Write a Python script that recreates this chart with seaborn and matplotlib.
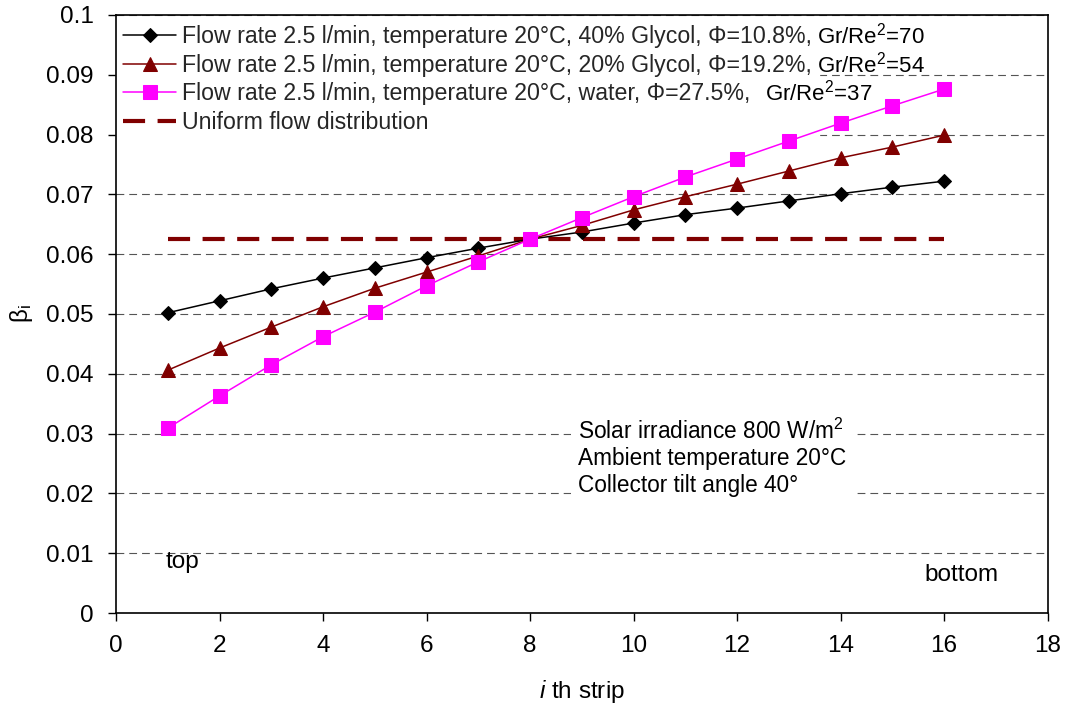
import matplotlib
matplotlib.use("Agg")
import matplotlib.pyplot as plt
import matplotlib.transforms as mtransforms
import seaborn as sns
import numpy as np
from matplotlib.ticker import FuncFormatter, MultipleLocator

# ---- data ----
strips = list(range(1, 17))
glycol40 = [0.0502, 0.0522, 0.0542, 0.0560, 0.0577, 0.0594, 0.0610, 0.0625,
            0.0637, 0.0652, 0.0666, 0.0677, 0.0689, 0.0701, 0.0712, 0.0722]
glycol20 = [0.0406, 0.0443, 0.0478, 0.0512, 0.0543, 0.0570, 0.0597, 0.0625,
            0.0648, 0.0674, 0.0696, 0.0717, 0.0739, 0.0761, 0.0779, 0.0799]
water = [0.0309, 0.0363, 0.0415, 0.0462, 0.0503, 0.0547, 0.0587, 0.0625,
         0.0661, 0.0696, 0.0729, 0.0759, 0.0789, 0.0819, 0.0848, 0.0876]
uniform = [0.0625] * 16

labels = ["Flow rate 2.5 l/min, temperature 20°C, 40% Glycol, Φ=10.8%,",
          "Flow rate 2.5 l/min, temperature 20°C, 20% Glycol, Φ=19.2%,",
          "Flow rate 2.5 l/min, temperature 20°C, water, Φ=27.5%,",
          "Uniform flow distribution"]
gr_labels = ["Gr/Re$^2$=70", "Gr/Re$^2$=54", "Gr/Re$^2$=37"]
conditions = "Solar irradiance 800 W/m$^2$\nAmbient temperature 20°C\nCollector tilt angle 40°"

# ---- style ----
sns.set_theme(style="white")
plt.rcParams["font.family"] = ["Liberation Sans", "DejaVu Sans"]
plt.rcParams["mathtext.fontset"] = "custom"
plt.rcParams["mathtext.rm"] = "Liberation Sans"
plt.rcParams["mathtext.it"] = "Liberation Sans:italic"
plt.rcParams["mathtext.default"] = "regular"

fig = plt.figure(figsize=(10.69, 7.10), dpi=100)
ax = fig.add_axes([0.1085, 0.1366, 0.8715, 0.8424])

sns.lineplot(x=strips, y=glycol40, ax=ax, color="black", marker="D", markersize=7,
             markeredgecolor="black", linewidth=1.1, label=labels[0], zorder=4)
sns.lineplot(x=strips, y=glycol20, ax=ax, color="#800000", marker="^", markersize=10,
             markeredgecolor="#800000", linewidth=1.1, label=labels[1], zorder=4)
sns.lineplot(x=strips, y=water, ax=ax, color="#FF00FF", marker="s", markersize=9.5,
             markeredgecolor="#FF00FF", linewidth=1.1, label=labels[2], zorder=4)
sns.lineplot(x=strips, y=uniform, ax=ax, color="#800000", linewidth=3.0,
             label=labels[3], zorder=3)
ax.lines[-1].set_dashes((5.3, 3.0))

ax.set_xlim(0, 18)
ax.set_ylim(0, 0.1)
ax.xaxis.set_major_locator(MultipleLocator(2))
ax.yaxis.set_major_locator(MultipleLocator(0.01))
ax.yaxis.set_major_formatter(FuncFormatter(lambda v, p: "%g" % round(v, 3)))

ax.yaxis.grid(True, color="#555555", linestyle=(0, (7, 4.5)), linewidth=0.8)
ax.xaxis.grid(False)
ax.set_axisbelow(True)

for s in ax.spines.values():
    s.set_color("black")
    s.set_linewidth(1.2)
    s.set_zorder(10)

ax.tick_params(axis="both", which="major", direction="out", length=6, width=1,
               color="black", labelsize=17.5, labelcolor="black", pad=10,
               left=True, bottom=True)

ax.set_xlabel("$\\mathit{i}$ th strip", fontsize=17.5, color="black", labelpad=15)
ax.set_ylabel("$\\mathrm{\\beta_i}$", fontsize=17.5, color="black", labelpad=8)

leg = ax.legend(loc="upper left", bbox_to_anchor=(0, 1 - 3 / 598), borderaxespad=0,
                fontsize=16.7, frameon=True, framealpha=1, edgecolor="white",
                facecolor="white", fancybox=False, handlelength=2.3,
                handletextpad=0.25, labelspacing=0.25, borderpad=0.3)
leg.set_zorder(3.5)

# Gr/Re^2 annotations placed right after the legend entries
fig.canvas.draw()
renderer = fig.canvas.get_renderer()
gaps = [5, 5, 15]
for t, txt, g in zip(gr_labels, leg.get_texts()[:3], gaps):
    bb = txt.get_window_extent(renderer)
    ax.text(bb.x1 + g, (bb.y0 + bb.y1) / 2 + 1, t, fontsize=16.0, va="center",
            ha="left", color="black", zorder=6,
            transform=mtransforms.IdentityTransform())

ax.text(8.92, 0.0325, conditions, fontsize=16.3, va="top", ha="left",
        linespacing=1.2, color="black", zorder=6,
        bbox=dict(facecolor="white", edgecolor="none", pad=5))

ax.text(0.95, 0.0085, "top", fontsize=17.5, va="center", ha="left", color="black")
ax.text(15.62, 0.0064, "bottom", fontsize=17.5, va="center", ha="left", color="black")

fig.savefig("out.png", dpi=100)
